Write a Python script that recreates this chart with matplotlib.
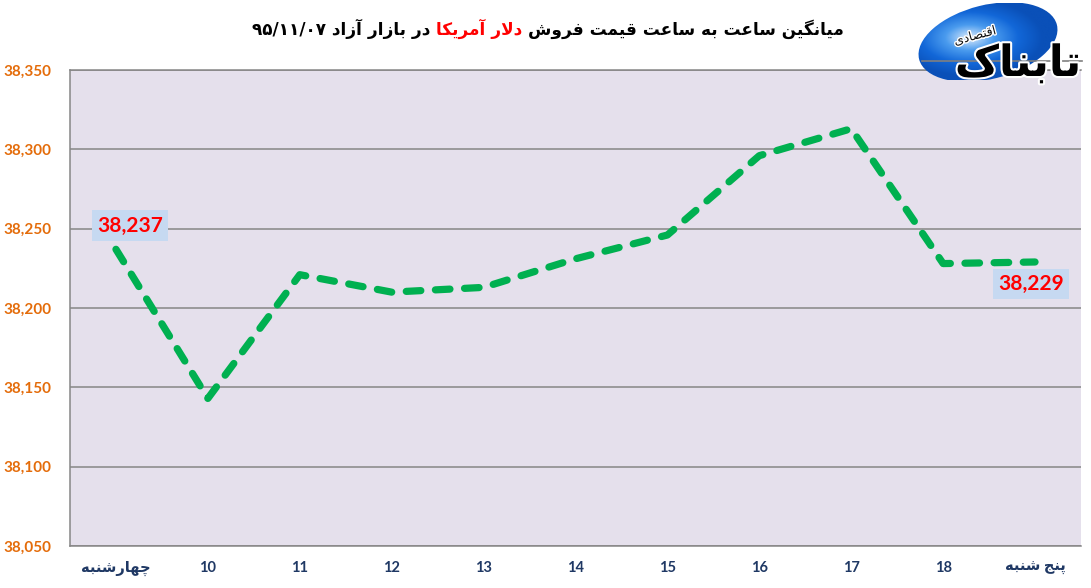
import numpy as np
import matplotlib
matplotlib.use("Agg")
import matplotlib.pyplot as plt
from matplotlib.patches import Ellipse
import matplotlib.patheffects as pe

# ---------------- data ----------------
categories = ["چهارشنبه", "10", "11", "12", "13", "14", "15", "16", "17", "18", "پنج شنبه"]
prices = [38237, 38143, 38221, 38210, 38213, 38231, 38246, 38296, 38313, 38228, 38229]
yticks = [38050, 38100, 38150, 38200, 38250, 38300, 38350]
title_parts = ["میانگین ساعت به ساعت قیمت فروش", "دلار آمریکا", "در بازار آزاد ۹۵/۱۱/۰۷"]
title_colors = ["black", "#FF0000", "black"]
logo_main = "تابناک"
logo_sub = "اقتصادی"

# ---------------- minimal Persian shaping (matplotlib has no shaper) ----------------
FORMS = {
    'ا': ('\uFE8D', '\uFE8E'), 'آ': ('\uFE81', '\uFE82'), 'د': ('\uFEA9', '\uFEAA'),
    'ر': ('\uFEAD', '\uFEAE'), 'ز': ('\uFEAF', '\uFEB0'), 'و': ('\uFEED', '\uFEEE'),
    'ب': ('\uFE8F', '\uFE90', '\uFE91', '\uFE92'), 'پ': ('\uFB56', '\uFB57', '\uFB58', '\uFB59'),
    'ت': ('\uFE95', '\uFE96', '\uFE97', '\uFE98'), 'ج': ('\uFE9D', '\uFE9E', '\uFE9F', '\uFEA0'),
    'چ': ('\uFB7A', '\uFB7B', '\uFB7C', '\uFB7D'), 'س': ('\uFEB1', '\uFEB2', '\uFEB3', '\uFEB4'),
    'ش': ('\uFEB5', '\uFEB6', '\uFEB7', '\uFEB8'), 'ص': ('\uFEB9', '\uFEBA', '\uFEBB', '\uFEBC'),
    'ع': ('\uFEC9', '\uFECA', '\uFECB', '\uFECC'), 'ف': ('\uFED1', '\uFED2', '\uFED3', '\uFED4'),
    'ق': ('\uFED5', '\uFED6', '\uFED7', '\uFED8'), 'ک': ('\uFB8E', '\uFB8F', '\uFB90', '\uFB91'),
    'گ': ('\uFB92', '\uFB93', '\uFB94', '\uFB95'), 'ل': ('\uFEDD', '\uFEDE', '\uFEDF', '\uFEE0'),
    'م': ('\uFEE1', '\uFEE2', '\uFEE3', '\uFEE4'), 'ن': ('\uFEE5', '\uFEE6', '\uFEE7', '\uFEE8'),
    'ه': ('\uFEE9', '\uFEEA', '\uFEEB', '\uFEEC'), 'ی': ('\uFBFC', '\uFBFD', '\uFBFE', '\uFBFF'),
}
LAM_ALEF = {'ا': ('\uFEFB', '\uFEFC'), 'آ': ('\uFEF5', '\uFEF6')}


def shape(word):
    word = word.replace('\u064A', 'ی').replace('\u0643', 'ک')
    out = []
    i = 0
    n = len(word)
    while i < n:
        c = word[i]
        if c not in FORMS:
            out.append(c)
            i += 1
            continue
        prev = word[i - 1] if i > 0 else None
        jp = prev in FORMS and len(FORMS[prev]) == 4
        if c == 'ل' and i + 1 < n and word[i + 1] in LAM_ALEF:
            out.append(LAM_ALEF[word[i + 1]][1 if jp else 0])
            i += 2
            continue
        nxt = word[i + 1] if i + 1 < n else None
        f = FORMS[c]
        jn = len(f) == 4 and nxt in FORMS
        if jp and jn:
            out.append(f[3])
        elif jp:
            out.append(f[1])
        elif jn:
            out.append(f[2])
        else:
            out.append(f[0])
        i += 1
    return ''.join(out)


def visual(s):
    shaped = shape(s)
    runs = []
    for ch in shaped:
        ltr = ch.isdigit() or ch in '/.,' or ('A' <= ch <= 'z')
        if runs and runs[-1][0] == ltr:
            runs[-1][1].append(ch)
        else:
            runs.append([ltr, [ch]])
    res = []
    for ltr, chars in reversed(runs):
        res.append(''.join(chars) if ltr else ''.join(reversed(chars)))
    return ''.join(res)


# ---------------- figure ----------------
W, H = 1091, 588
fig = plt.figure(figsize=(W / 100, H / 100), dpi=100)
fig.patch.set_facecolor('white')

ax = fig.add_axes([70 / W, 1 - 546 / H, (1081 - 70) / W, (546 - 70) / H])
ax.set_facecolor('#E5E0EC')
x = np.arange(len(categories))

ax.set_xlim(-0.5, len(categories) - 0.5)
ax.set_ylim(yticks[0], yticks[-1])
ax.set_yticks(yticks)
ax.set_yticklabels([f"{v:,}" for v in yticks])
ax.yaxis.grid(True, color='#868686', linewidth=1.1)
ax.set_axisbelow(True)
for side in ['left', 'bottom', 'top']:
    ax.spines[side].set_color('#868686')
    ax.spines[side].set_linewidth(1.1)
ax.spines['right'].set_visible(False)
ax.tick_params(axis='both', length=0)
ax.tick_params(axis='y', pad=13)
ax.tick_params(axis='x', pad=11)
for lbl in ax.get_yticklabels():
    lbl.set_fontfamily(['Lato', 'DejaVu Sans'])
    lbl.set_fontweight('bold')
    lbl.set_fontsize(11)
    lbl.set_color('#E46C0A')
ax.set_xticks(x)
ax.set_xticklabels([visual(c) for c in categories],
                   fontfamily=['Lato', 'DejaVu Sans'], fontweight='bold',
                   fontsize=10.5, color='#1F3864')

plt.rcParams['lines.scale_dashes'] = False
ax.plot(x, prices, color='#00B050', linewidth=5.2, dashes=(10.5, 10.5),
        dash_capstyle='round', solid_joinstyle='round', dash_joinstyle='round',
        zorder=3)

box = dict(boxstyle='square,pad=0.25', facecolor='#C6D9F1', edgecolor='none')
ax.annotate(f"{prices[0]:,}", xy=(x[0], prices[0]), xytext=(10, 17),
            textcoords='offset points', ha='center', va='center',
            fontsize=15, fontweight='bold', color='#FF0000',
            fontfamily='Lato', bbox=box, zorder=4)
ax.annotate(f"{prices[-1]:,}", xy=(x[-1], prices[-1]), xytext=(-3, -16),
            textcoords='offset points', ha='center', va='center',
            fontsize=15, fontweight='bold', color='#FF0000',
            fontfamily='Lato', bbox=box, zorder=4)

# ---------------- title (RTL, multi-colour) ----------------
renderer = fig.canvas.get_renderer()
texts = []
for part, col in zip(title_parts, title_colors):
    t = fig.text(0, 1 - 35 / H, visual(part), ha='left', va='baseline',
                 fontsize=12.2, fontweight='bold', color=col,
                 fontfamily=['DejaVu Sans'])
    texts.append(t)
gap = 6
widths = [t.get_window_extent(renderer).width for t in texts]
total = sum(widths) + gap * (len(texts) - 1)
right = 548 + total / 2
for t, w in zip(texts, widths):
    t.set_x((right - w) / W)
    right -= w + gap

# ---------------- logo ----------------
lax = fig.add_axes([0, 0, 1, 1], zorder=10)
lax.set_xlim(0, W)
lax.set_ylim(H, 0)
lax.axis('off')
ell = Ellipse((988, 42), 142, 74, angle=-14, facecolor='none', edgecolor='none',
              transform=lax.transData)
lax.add_patch(ell)
gx, gy = np.meshgrid(np.linspace(-1, 1, 256), np.linspace(-1, 1, 256))
rad = np.clip(np.sqrt((gx + 0.25) ** 2 + (gy + 0.1) ** 2), 0, 1)
img = lax.imshow(rad, extent=(915, 1061, 80, 3), cmap=plt.matplotlib.colors.LinearSegmentedColormap.from_list(
    'lg', ['#DCEBFC', '#4A9BEE', '#1267D8', '#0A50B8']), aspect='auto', zorder=1)
img.set_clip_path(ell)
lax.plot([922, 1082], [61, 61], color='#7F7F7F', linewidth=1.2, zorder=2)
lax.text(1018, 76, visual(logo_main), fontsize=31, fontweight='bold', color='black',
         ha='center', va='baseline', fontfamily=['DejaVu Sans'], zorder=3,
         path_effects=[pe.withStroke(linewidth=3, foreground='white')])
lax.text(975, 36, visual(logo_sub), fontsize=9, color='#111111', ha='center',
         va='center', rotation=15, fontfamily=['DejaVu Sans'], zorder=3,
         path_effects=[pe.withStroke(linewidth=2, foreground='white')])

fig.savefig('out.png', dpi=100, facecolor='white')
